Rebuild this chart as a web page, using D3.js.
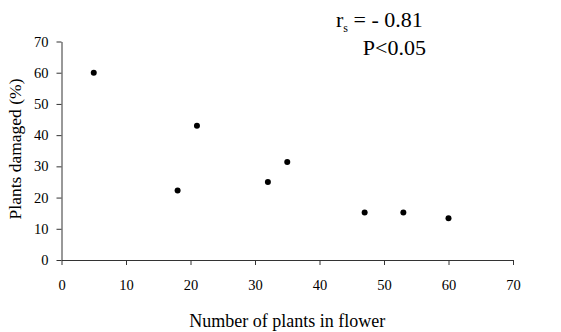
<!DOCTYPE html>
<html>
<head>
<meta charset="utf-8">
<script src="https://cdn.jsdelivr.net/npm/d3@7"></script>
<style>
  body { margin: 0; background: #fff; }
  text { font-family: "Liberation Serif", "Times New Roman", serif; fill: #000; }
</style>
</head>
<body>
<div id="chart"></div>
<script>
var flowering = [5, 18, 21, 32, 35, 47, 53, 60];
var damaged = [60, 22.3, 43, 25, 31.4, 15.2, 15.2, 13.4];
var xTicks = [0, 10, 20, 30, 40, 50, 60, 70];
var yTicks = [0, 10, 20, 30, 40, 50, 60, 70];

function init(){
	var w = 561, h = 332;
	var left = 61.5, right = 513, top = 41.5, bottom = 260;

	var svg = d3.select("#chart").append("svg")
		.attr("width", w).attr("height", h);

	var x = d3.scaleLinear().domain([0, 70]).range([left, right]);
	var y = d3.scaleLinear().domain([0, 70]).range([bottom, top]);

	var xAxis = svg.append("g")
		.attr("transform", "translate(0," + bottom + ")")
		.call(d3.axisBottom(x).tickValues(xTicks).tickSize(5).tickPadding(15).tickSizeOuter(0));
	var yAxis = svg.append("g")
		.attr("transform", "translate(" + left + ",0)")
		.call(d3.axisLeft(y).tickValues(yTicks).tickSize(5).tickPadding(8).tickSizeOuter(0));

	[xAxis, yAxis].forEach(function(g){
		g.attr("font-family", "'Liberation Serif', serif").attr("font-size", 14.5);
		g.selectAll("path, line").attr("stroke", "#333").attr("stroke-width", 1);
		g.selectAll("text").attr("fill", "#000");
	});

	svg.selectAll("circle")
		.data(flowering)
		.enter()
		.append("circle")
		.attr("cx", function(d){ return x(d); })
		.attr("cy", function(d, i){ return y(damaged[i]); })
		.attr("r", 3)
		.attr("fill", "#000");

	svg.append("text")
		.attr("x", (left + right) / 2)
		.attr("y", 327)
		.attr("text-anchor", "middle")
		.style("font-size", "18px")
		.text("Number of plants in flower");

	svg.append("text")
		.attr("transform", "translate(21,149) rotate(-90)")
		.attr("text-anchor", "middle")
		.style("font-size", "17.5px")
		.text("Plants damaged (%)");

	var stat = svg.append("text")
		.attr("x", 336)
		.attr("y", 27)
		.style("font-size", "22px");
	stat.append("tspan").text("r");
	stat.append("tspan").attr("dy", 5).style("font-size", "12px").text("s");
	stat.append("tspan").attr("dy", -5).text(" = - 0.81");

	svg.append("text")
		.attr("x", 426)
		.attr("y", 55)
		.attr("text-anchor", "end")
		.style("font-size", "22px")
		.text("P<0.05");
}

window.onload = init;
</script>
</body>
</html>
